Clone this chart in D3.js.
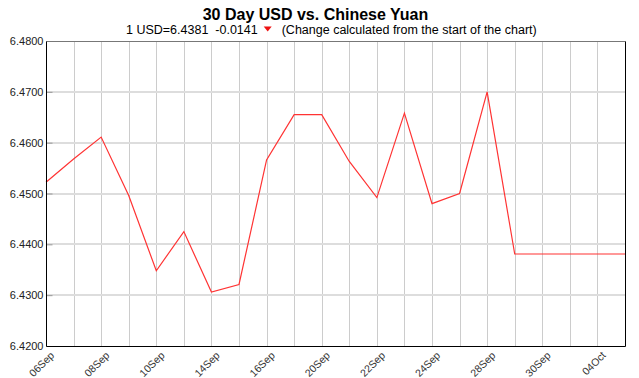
<!DOCTYPE html>
<html>
<head>
<meta charset="utf-8">
<script src="https://cdn.jsdelivr.net/npm/d3@7"></script>
<style>
  body { margin: 0; background: #fff; }
  svg { display: block; font-family: "Liberation Sans", Arial, sans-serif; }
</style>
</head>
<body>
<div id="vis"></div>
<script>
// Frame constants
const FRAME_WIDTH = 639;
const FRAME_HEIGHT = 378;
const MARGINS = {left: 46, right: 14, top: 41, bottom: 32};

// Data
const dates = ["06Sep", "07Sep", "08Sep", "09Sep", "10Sep", "13Sep", "14Sep", "15Sep",
               "16Sep", "17Sep", "20Sep", "21Sep", "22Sep", "23Sep", "24Sep", "27Sep",
               "28Sep", "29Sep", "30Sep", "01Oct", "04Oct", "05Oct"];
const rates = [6.4522, 6.4568, 6.4611, 6.4496, 6.4348, 6.4425, 6.4306, 6.4321,
               6.4566, 6.4655, 6.4655, 6.4563, 6.4492, 6.4658, 6.4480, 6.4500,
               6.4700, 6.4381, 6.4381, 6.4381, 6.4381, 6.4381];
const yTicks = [6.42, 6.43, 6.44, 6.45, 6.46, 6.47, 6.48];
const labelEvery = 2;

const VIS_WIDTH = FRAME_WIDTH - MARGINS.left - MARGINS.right;
const VIS_HEIGHT = FRAME_HEIGHT - MARGINS.top - MARGINS.bottom;

const FRAME = d3.select("#vis")
  .append("svg")
    .attr("width", FRAME_WIDTH)
    .attr("height", FRAME_HEIGHT);

const X_SCALE = d3.scalePoint()
  .domain(dates)
  .range([MARGINS.left, MARGINS.left + VIS_WIDTH]);

const Y_SCALE = d3.scaleLinear()
  .domain([6.42, 6.48])
  .range([MARGINS.top + VIS_HEIGHT, MARGINS.top]);

// vertical grid
FRAME.append("g")
  .selectAll("line")
  .data(dates.slice(1, -1))
  .enter()
  .append("line")
    .attr("x1", d => Math.round(X_SCALE(d)) + 0.5)
    .attr("x2", d => Math.round(X_SCALE(d)) + 0.5)
    .attr("y1", MARGINS.top)
    .attr("y2", MARGINS.top + VIS_HEIGHT)
    .attr("stroke", "#cccccc")
    .attr("stroke-width", 1);

// horizontal grid
FRAME.append("g")
  .selectAll("line")
  .data(yTicks.slice(1, -1))
  .enter()
  .append("line")
    .attr("x1", MARGINS.left)
    .attr("x2", MARGINS.left + VIS_WIDTH)
    .attr("y1", d => Math.round(Y_SCALE(d)))
    .attr("y2", d => Math.round(Y_SCALE(d)))
    .attr("stroke", "#dddddd")
    .attr("stroke-width", 2);

// y axis
const yAxis = FRAME.append("g")
  .attr("transform", "translate(" + (MARGINS.left + 0.5) + ",0)")
  .call(d3.axisRight(Y_SCALE).tickValues(yTicks).tickSize(6).tickFormat(d3.format(".4f")));
yAxis.select(".domain").remove();
yAxis.selectAll(".tick line").attr("stroke", "#999999");
yAxis.selectAll(".tick text")
  .attr("x", -3)
  .attr("text-anchor", "end")
  .attr("font-family", "Liberation Sans, Arial, sans-serif")
  .attr("font-size", "11px")
  .attr("fill", "#222");

// x labels
FRAME.append("g")
  .selectAll("text")
  .data(dates.filter((d, i) => i % labelEvery === 0))
  .enter()
  .append("text")
    .attr("transform", d => "translate(" + (X_SCALE(d) + 9) + "," + (MARGINS.top + VIS_HEIGHT + 10) + ") rotate(-45)")
    .attr("text-anchor", "end")
    .attr("font-size", "10.5px")
    .attr("fill", "#333")
    .text(d => d);

// line
FRAME.append("path")
  .datum(rates)
  .attr("fill", "none")
  .attr("stroke", "#ff3333")
  .attr("stroke-width", 1.2)
  .attr("d", d3.line()
    .x((d, i) => X_SCALE(dates[i]))
    .y(d => Y_SCALE(d)));

// frame borders
const L = MARGINS.left + 0.5, R = MARGINS.left + VIS_WIDTH + 0.5;
const T = MARGINS.top + 0.5, B = MARGINS.top + VIS_HEIGHT + 0.5;
FRAME.append("line").attr("x1", L).attr("x2", R).attr("y1", T).attr("y2", T)
  .attr("stroke", "#777").attr("stroke-width", 1);
FRAME.append("line").attr("x1", L).attr("x2", L).attr("y1", T).attr("y2", B)
  .attr("stroke", "#000").attr("stroke-width", 1);
FRAME.append("line").attr("x1", R).attr("x2", R).attr("y1", T).attr("y2", B)
  .attr("stroke", "#000").attr("stroke-width", 1);
FRAME.append("line").attr("x1", L).attr("x2", R).attr("y1", B).attr("y2", B)
  .attr("stroke", "#000").attr("stroke-width", 1);

// title
FRAME.append("text")
  .attr("x", 315.5)
  .attr("y", 20)
  .attr("text-anchor", "middle")
  .attr("font-size", "16px")
  .attr("font-weight", "bold")
  .attr("fill", "#000")
  .text("30 Day USD vs. Chinese Yuan");

// subtitle
const SUB_X = 126;
const sub1 = FRAME.append("text")
  .attr("x", SUB_X)
  .attr("y", 34)
  .attr("font-size", "12.5px")
  .attr("fill", "#000")
  .attr("xml:space", "preserve")
  .style("white-space", "pre")
  .text("1 USD=6.4381  -0.0141");
const w1 = sub1.node().getComputedTextLength();
const triX = SUB_X + w1 + 6;
FRAME.append("path")
  .attr("d", "M" + triX + ",26.5 L" + (triX + 8) + ",26.5 L" + (triX + 4) + ",31.5 Z")
  .attr("fill", "#ee1111");
FRAME.append("text")
  .attr("x", triX + 18)
  .attr("y", 34)
  .attr("font-size", "12.5px")
  .attr("fill", "#000")
  .text("(Change calculated from the start of the chart)");
</script>
</body>
</html>
